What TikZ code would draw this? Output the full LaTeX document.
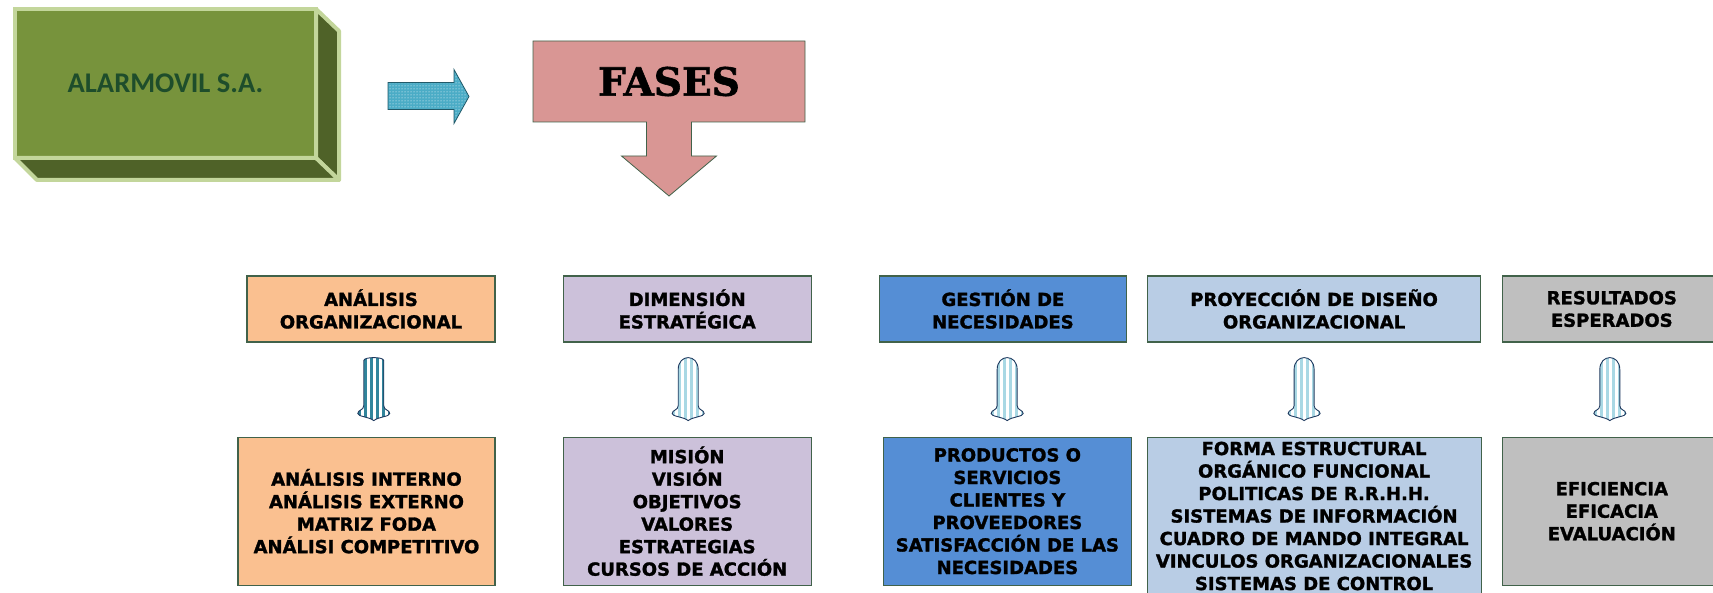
\documentclass[tikz,border=0pt]{standalone}
\usepackage{fontspec}
\usetikzlibrary{positioning,calc,patterns,backgrounds}
\newfontfamily\boxfont{DejaVu Sans}[BoldFeatures={FakeBold=1.5}]
\newfontfamily\namefont{Carlito}
\newfontfamily\fasesfont{DejaVu Serif}[BoldFeatures={FakeBold=1.5}]
\definecolor{frontgreen}{HTML}{77933C}
\definecolor{sidegreen}{HTML}{4F6228}
\definecolor{framegreen}{HTML}{C3D69B}
\definecolor{namegreen}{HTML}{1E4D2B}
\definecolor{dotteal}{HTML}{4BACC6}
\definecolor{dotline}{HTML}{215968}
\definecolor{fasesrose}{HTML}{D99694}
\definecolor{boxline}{HTML}{41624A}
\definecolor{peach}{HTML}{FAC090}
\definecolor{lilac}{HTML}{CCC1DA}
\definecolor{midblue}{HTML}{558ED5}
\definecolor{paleblue}{HTML}{B9CDE5}
\definecolor{silver}{HTML}{BFBFBF}
\definecolor{tealstripe}{HTML}{31859C}
\definecolor{icestripe}{HTML}{A9D8E4}
\definecolor{tulipdraw}{HTML}{1F3A5F}
\newcommand{\tulippath}[1]{(-10,48) -- (-10,#1) .. controls (-10,-#1/3) and (10,-#1/3) .. (10,#1) -- (10,48) .. controls (10,53) and (16,52) .. (16,56) .. controls (16,59) and (5,59) .. (0,63) .. controls (-5,59) and (-16,59) .. (-16,56) .. controls (-16,52) and (-10,53) .. (-10,48) -- cycle}

\begin{document}
\begin{tikzpicture}[x=1pt, y=-1pt,
phase/.style={rectangle, draw=boxline, line width=1.2pt, minimum height=66pt, inner xsep=2pt, inner ysep=4pt, align=center, font=\boxfont\bfseries\fontsize{18}{22.5}\selectfont},
item/.style={phase, minimum height=148pt},
sideface/.style={draw=framegreen, fill=sidegreen, line width=4pt, line join=round},
tulipline/.style={draw=tulipdraw, line width=0.9pt}
]
\useasboundingbox (0,0) rectangle (1713,593);
%Company box
\node[draw=framegreen, fill=frontgreen, line width=4pt, outer sep=0pt, minimum width=301pt, minimum height=149pt, text=namegreen, font=\namefont\bfseries\fontsize{28.5}{28.5}\selectfont] (alarmovil) at (165.5,83.5) {ALARMOVIL S.A.};
\draw[sideface] (alarmovil.north east) -- ++(23,22) -- ++(0,149) -- (alarmovil.south east) -- cycle;
\draw[sideface] (alarmovil.south west) -- ++(22,22) -- ++(302,0) -- (alarmovil.south east) -- cycle;
\draw[draw=dotline, line width=0.8pt, preaction={fill=dotteal}, pattern=dots, pattern color=white] (388,82.5) -- ++(66,0) -- ++(0,-13) -- ++(15,27) -- ++(-15,27) -- ++(0,-14) -- ++(-66,0) -- cycle;
%Fases
\node[minimum width=272pt, minimum height=81pt, outer sep=0pt, font=\fasesfont\bfseries\fontsize{39}{39}\selectfont] (fases) at (669,81.5) {FASES};
\begin{scope}[on background layer]
\draw[draw=boxline, line width=0.8pt, fill=fasesrose] (fases.north west) -- (fases.north east) -- (fases.south east) -- ($(fases.south)+(22.5,0)$) -- ++(0,34) -- ++(25,0) -- ++(-47.5,40) -- ++(-47.5,-40) -- ++(25,0) -- ++(0,-34) -- (fases.south west) -- cycle;
\end{scope}
%Nodes
\node[phase, fill=peach, minimum width=248pt]    (f1) at (371,309)       {ANÁLISIS\\ORGANIZACIONAL};
\node[phase, fill=lilac, minimum width=248pt]    (f2) [right=67pt of f1] {DIMENSIÓN\\ESTRATÉGICA};
\node[phase, fill=midblue, minimum width=247pt]  (f3) [right=67pt of f2] {GESTIÓN DE\\NECESIDADES};
\node[phase, fill=paleblue, minimum width=333pt] (f4) [right=20pt of f3] {PROYECCIÓN DE DISEÑO\\ORGANIZACIONAL};
\node[phase, fill=silver, minimum width=218pt]   (f5) [right=21pt of f4] {RESULTADOS\\ESPERADOS};
\node[item, fill=peach, minimum width=257pt]     (c1) [below=94pt of f1, xshift=-4.5pt] {ANÁLISIS INTERNO\\ANÁLISIS EXTERNO\\MATRIZ FODA\\ANÁLISI COMPETITIVO};
\node[item, fill=lilac, minimum width=248pt]     (c2) [below=94pt of f2] {MISIÓN\\VISIÓN\\OBJETIVOS\\VALORES\\ESTRATEGIAS\\CURSOS DE ACCIÓN};
\node[item, fill=midblue, minimum width=248pt]   (c3) [below=94pt of f3, xshift=4.5pt] {PRODUCTOS O\\SERVICIOS\\CLIENTES Y\\PROVEEDORES\\SATISFACCIÓN DE LAS\\NECESIDADES};
\node[item, fill=paleblue, minimum width=334pt, inner ysep=4.5pt, text depth=20pt] (c4) [below=94pt of f4] {FORMA ESTRUCTURAL\\ORGÁNICO FUNCIONAL\\POLITICAS DE R.R.H.H.\\SISTEMAS DE INFORMACIÓN\\CUADRO DE MANDO INTEGRAL\\VINCULOS ORGANIZACIONALES\\SISTEMAS DE CONTROL};
\node[item, fill=silver, minimum width=218pt]    (c5) [below=94pt of f5] {EFICIENCIA\\EFICACIA\\EVALUACIÓN};
%Arrows
\foreach \i/\dx/\dome/\stripe in {1/5/3/tealstripe, 2/1/12/icestripe, 3/2/12/icestripe, 4/-10/12/icestripe, 5/-2/12/icestripe}{
  \begin{scope}[shift={($(f\i.south)!0.5!(c\i.north)+(\dx,-32)$)}]
    \begin{scope}
      \clip \tulippath{\dome};
      \fill[white] (-17,-2) rectangle (17,65);
      \foreach \s in {-16,-10,...,14} \fill[\stripe] (\s,-2) rectangle ++(3.2,68);
    \end{scope}
    \draw[tulipline] \tulippath{\dome};
  \end{scope}
}
\end{tikzpicture}
\end{document}
